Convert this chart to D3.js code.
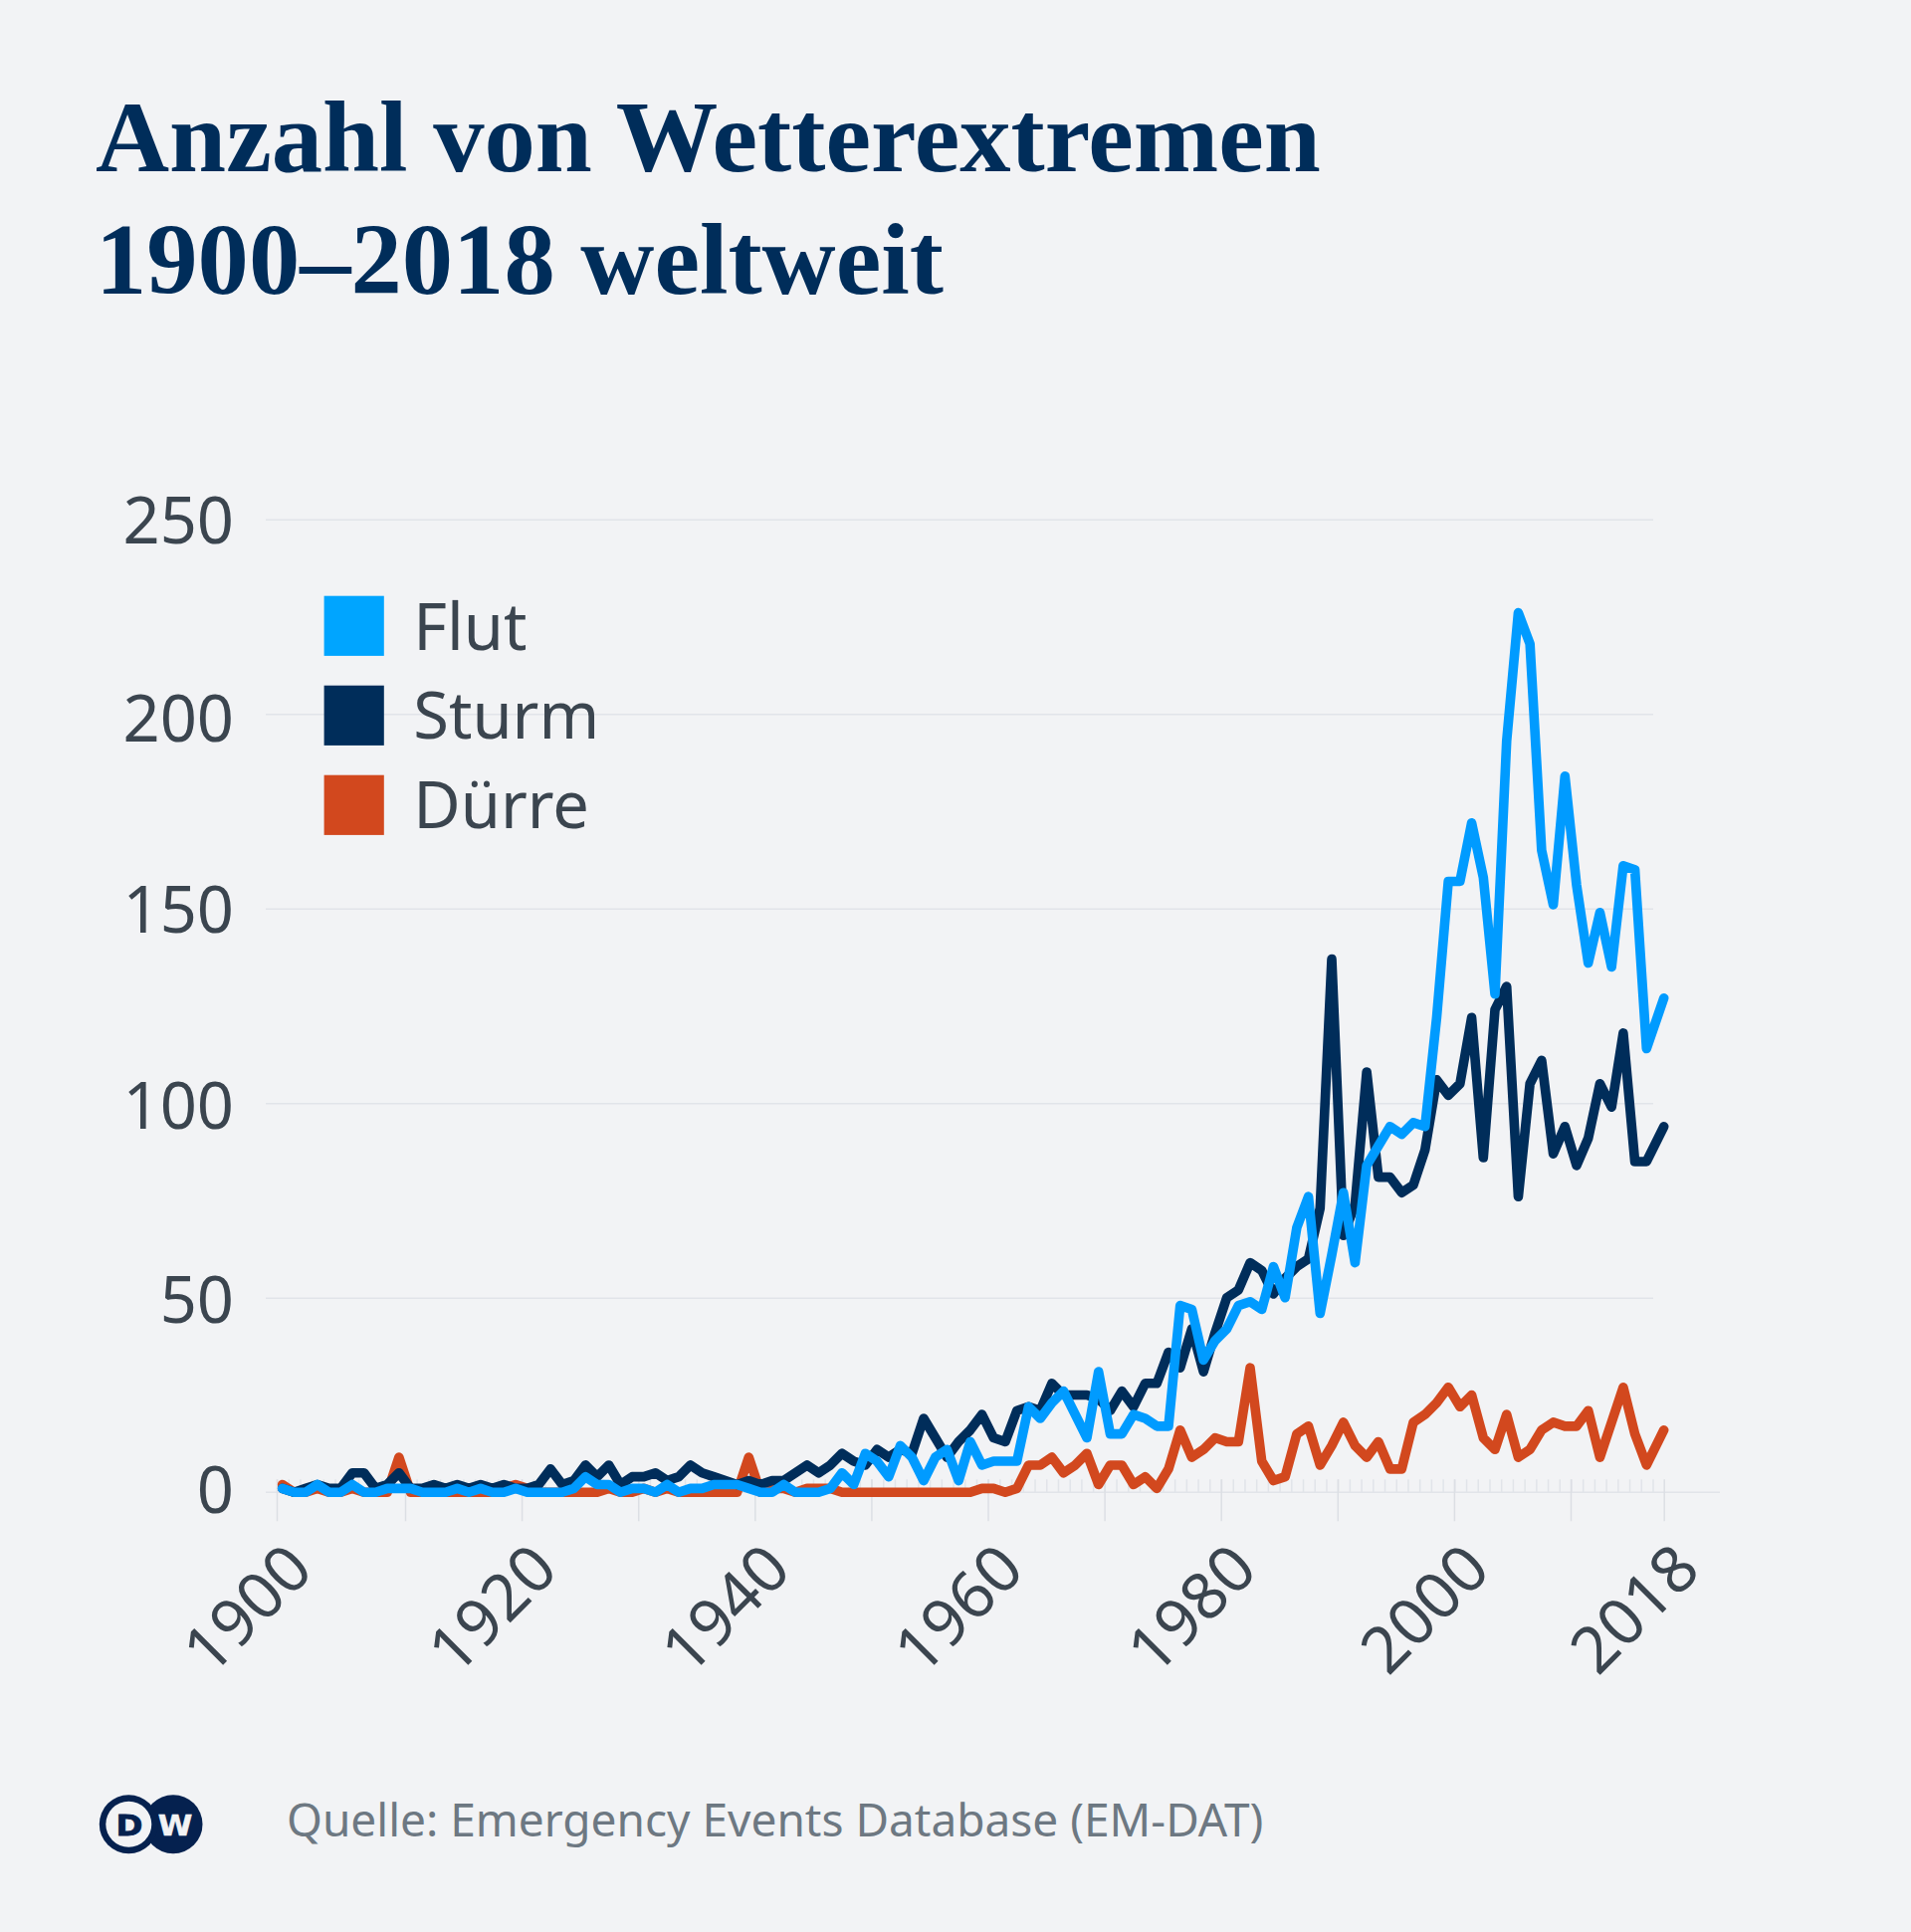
<!DOCTYPE html>
<html lang="de">
<head>
<meta charset="utf-8">
<title>Anzahl von Wetterextremen</title>
<script src="https://cdn.jsdelivr.net/npm/d3@7"></script>
<style>
  html, body { margin: 0; padding: 0; background: #f2f3f5; }
  svg { display: block; }
  text { font-family: "Noto Sans", "Open Sans", sans-serif; }
</style>
</head>
<body>
<div id="chart"></div>
<script>
const titleLines = ['Anzahl von Wetterextremen', '1900–2018 weltweit'];
const sourceText = 'Quelle: Emergency Events Database (EM-DAT)';

const years = d3.range(1900, 2019);
const yTicks = [0, 50, 100, 150, 200, 250];
const majorTicks = [1900, 1910, 1920, 1930, 1940, 1950, 1960, 1970, 1980, 1990, 2000, 2010, 2018];
const labelTicks = [1900, 1920, 1940, 1960, 1980, 2000, 2018];

const flut = [
  1, 0, 0, 2, 0, 0, 2, 0, 0, 1,
  1, 1, 0, 0, 0, 1, 0, 1, 0, 0,
  1, 0, 0, 0, 0, 1, 4, 2, 2, 0,
  1, 1, 0, 2, 0, 1, 1, 2, 2, 2,
  1, 0, 0, 2, 0, 0, 0, 1, 5, 2,
  10, 8, 4, 12, 9, 3, 9, 11, 3, 13,
  7, 8, 8, 8, 22, 19, 23, 26, 20, 14,
  31, 15, 15, 20, 19, 17, 17, 48, 47, 34,
  39, 42, 48, 49, 47, 58, 50, 68, 76, 46,
  61, 77, 59, 84, 89, 94, 92, 95, 94, 122,
  157, 157, 172, 158, 128, 193, 226, 218, 165, 151,
  184, 156, 136, 149, 135, 161, 160, 114, 127
];
const sturm = [
  1, 0, 1, 2, 1, 1, 5, 5, 1, 2,
  5, 1, 1, 2, 1, 2, 1, 2, 1, 2,
  1, 1, 2, 6, 2, 3, 7, 4, 7, 2,
  4, 4, 5, 3, 4, 7, 5, 4, 3, 2,
  3, 2, 3, 3, 5, 7, 5, 7, 10, 8,
  7, 11, 9, 11, 10, 19, 14, 9, 13, 16,
  20, 14, 13, 21, 22, 21, 28, 25, 25, 25,
  24, 21, 26, 22, 28, 28, 36, 32, 42, 31,
  41, 50, 52, 59, 57, 51, 55, 58, 60, 73,
  137, 66, 74, 108, 81, 81, 77, 79, 88, 106,
  102, 105, 122, 86, 124, 130, 76, 105, 111, 87,
  94, 84, 91, 105, 99, 118, 85, 85, 94
];
const duerre = [
  2, 0, 0, 1, 0, 0, 1, 0, 0, 0,
  9, 0, 0, 0, 0, 0, 0, 0, 0, 1,
  2, 1, 0, 0, 0, 0, 0, 0, 1, 0,
  0, 1, 0, 1, 0, 0, 0, 0, 0, 0,
  9, 0, 1, 1, 0, 1, 1, 1, 0, 0,
  0, 0, 0, 0, 0, 0, 0, 0, 0, 0,
  1, 1, 0, 1, 7, 7, 9, 5, 7, 10,
  2, 7, 7, 2, 4, 1, 6, 16, 9, 11,
  14, 13, 13, 32, 8, 3, 4, 15, 17, 7,
  12, 18, 12, 9, 13, 6, 6, 18, 20, 23,
  27, 22, 25, 14, 11, 20, 9, 11, 16, 18,
  17, 17, 21, 9, 18, 27, 15, 7, 16
];

const width = 1920;
const height = 1941;
const ink = '#3b454f';
const navy = '#002d5a';
const gridColor = '#e1e4e9';
const paper = '#f2f3f5';

const series = [
  { name: 'Dürre', values: duerre, line: '#d2481e', swatch: '#d2481e', row: 2 },
  { name: 'Sturm', values: sturm, line: navy, swatch: navy, row: 1 },
  { name: 'Flut', values: flut, line: '#009bff', swatch: '#00a5ff', row: 0 }
];

// the last point sits on its tick, all others sit half a step right of theirs
const x = d3.scaleLinear().domain([1900, 2017, 2018]).range([283.7, 1654.3, 1671.7]);
const y = d3.scaleLinear().domain([0, 250]).range([1499.3, 521.8]);
const xMajor = d3.scaleLinear().domain([1900, 1910, 2010, 2018]).range([278, 407, 1578, 1671.7]);
const xMinor = d3.scaleLinear().domain([0, 118]).range([278, 1660.5]);

const svg = d3.select('#chart').append('svg')
  .attr('width', width)
  .attr('height', height)
  .attr('viewBox', `0 0 ${width} ${height}`);

// title
svg.selectAll('.title')
  .data(titleLines)
  .enter()
  .append('text')
  .attr('class', 'title')
  .attr('x', 96)
  .attr('y', (d, i) => 171.5 + i * 123.5)
  .attr('fill', navy)
  .style('font-family', '"Liberation Serif", serif')
  .style('font-weight', 700)
  .style('font-size', '102.6px')
  .text(d => d);

// y axis and grid; the labels in the source do not sit evenly on their lines
const yLabelNudge = { 0: -3.5, 50: 1.5, 100: 1.5, 150: 0, 200: 3.5, 250: 0 };
const yAxis = svg.append('g')
  .attr('transform', 'translate(267,0)')
  .call(d3.axisLeft(y).tickValues(yTicks).tickSize(0).tickPadding(32));
yAxis.select('.domain').remove();
yAxis.selectAll('text')
  .attr('fill', ink)
  .attr('dy', '0.36em')
  .attr('y', d => yLabelNudge[d])
  .style('font-family', '"Noto Sans", sans-serif')
  .style('font-size', '65px');
yAxis.selectAll('.tick').filter(d => d > 0)
  .append('line')
  .attr('x2', 1661 - 267)
  .attr('stroke', gridColor)
  .attr('stroke-width', 1.5);

// x axis: baseline, small ticks above it, long ticks through it
const baseline = svg.append('g').attr('transform', `translate(0,${y(0)})`);
baseline.append('line')
  .attr('x1', 267)
  .attr('x2', 1728)
  .attr('stroke', gridColor)
  .attr('stroke-width', 1.5);

const minorAxis = baseline.append('g')
  .call(d3.axisTop(xMinor).tickValues(d3.range(0, 119)).tickSize(13).tickFormat(''));
minorAxis.select('.domain').remove();
minorAxis.selectAll('line').attr('stroke', gridColor).attr('stroke-width', 1.5);

const majorAxis = baseline.append('g')
  .call(d3.axisBottom(xMajor)
    .tickValues(majorTicks)
    .tickSize(29)
    .tickFormat(d => labelTicks.includes(d) ? String(d) : ''));
majorAxis.select('.domain').remove();
majorAxis.selectAll('line')
  .attr('y1', -13)
  .attr('stroke', '#dcdfe4')
  .attr('stroke-width', 1.5);
majorAxis.selectAll('text')
  .attr('fill', ink)
  .attr('text-anchor', 'end')
  .attr('dy', 0)
  .attr('y', 0)
  .attr('transform', 'translate(38.5,80.5) rotate(-45)')
  .style('font-family', '"Noto Sans", sans-serif')
  .style('font-size', '65px');

// lines
const line = d3.line()
  .x((d, i) => x(years[i]))
  .y(d => y(d));

svg.selectAll('.series')
  .data(series)
  .enter()
  .append('path')
  .attr('class', 'series')
  .attr('d', d => line(d.values))
  .attr('fill', 'none')
  .attr('stroke', d => d.line)
  .attr('stroke-width', 9.6)
  .attr('stroke-linejoin', 'round')
  .attr('stroke-linecap', 'round');

// legend
const legend = svg.selectAll('.legend')
  .data(series)
  .enter()
  .append('g')
  .attr('class', 'legend')
  .attr('transform', d => `translate(325.6,${598.7 + d.row * 90})`);
legend.append('rect')
  .attr('width', 60.2)
  .attr('height', 60.2)
  .attr('fill', d => d.swatch);
legend.append('text')
  .attr('x', 89.7)
  .attr('y', d => 54 - d.row * 0.5)
  .attr('fill', ink)
  .style('font-family', '"Noto Sans", sans-serif')
  .style('font-size', '65px')
  .text(d => d.name);

// DW logo
const logo = svg.append('g').attr('transform', 'translate(0,1832.7)');
const logoNavy = '#05214f';
logo.append('circle').attr('cx', 174).attr('r', 29.5).attr('fill', logoNavy);
logo.append('circle').attr('cx', 129.3).attr('r', 29.5).attr('fill', logoNavy);
logo.append('circle').attr('cx', 129.3).attr('r', 23).attr('fill', paper);
logo.append('text')
  .attr('text-anchor', 'middle')
  .attr('transform', 'translate(130,10.8) scale(1.12,1)')
  .attr('fill', logoNavy)
  .attr('stroke', logoNavy)
  .attr('stroke-width', 0.8)
  .style('font-family', '"DejaVu Sans", sans-serif')
  .style('font-weight', 700)
  .style('font-size', '29px')
  .text('D');
logo.append('text')
  .attr('text-anchor', 'middle')
  .attr('transform', 'translate(176,10.8) scale(1.08,1)')
  .attr('fill', paper)
  .attr('stroke', paper)
  .attr('stroke-width', 0.6)
  .style('font-family', '"DejaVu Sans", sans-serif')
  .style('font-weight', 700)
  .style('font-size', '29px')
  .text('W');

// source
svg.append('text')
  .attr('x', 288)
  .attr('y', 1845)
  .attr('fill', '#6d7882')
  .style('font-family', '"Noto Sans", sans-serif')
  .style('font-size', '46px')
  .text(sourceText);
</script>
</body>
</html>
